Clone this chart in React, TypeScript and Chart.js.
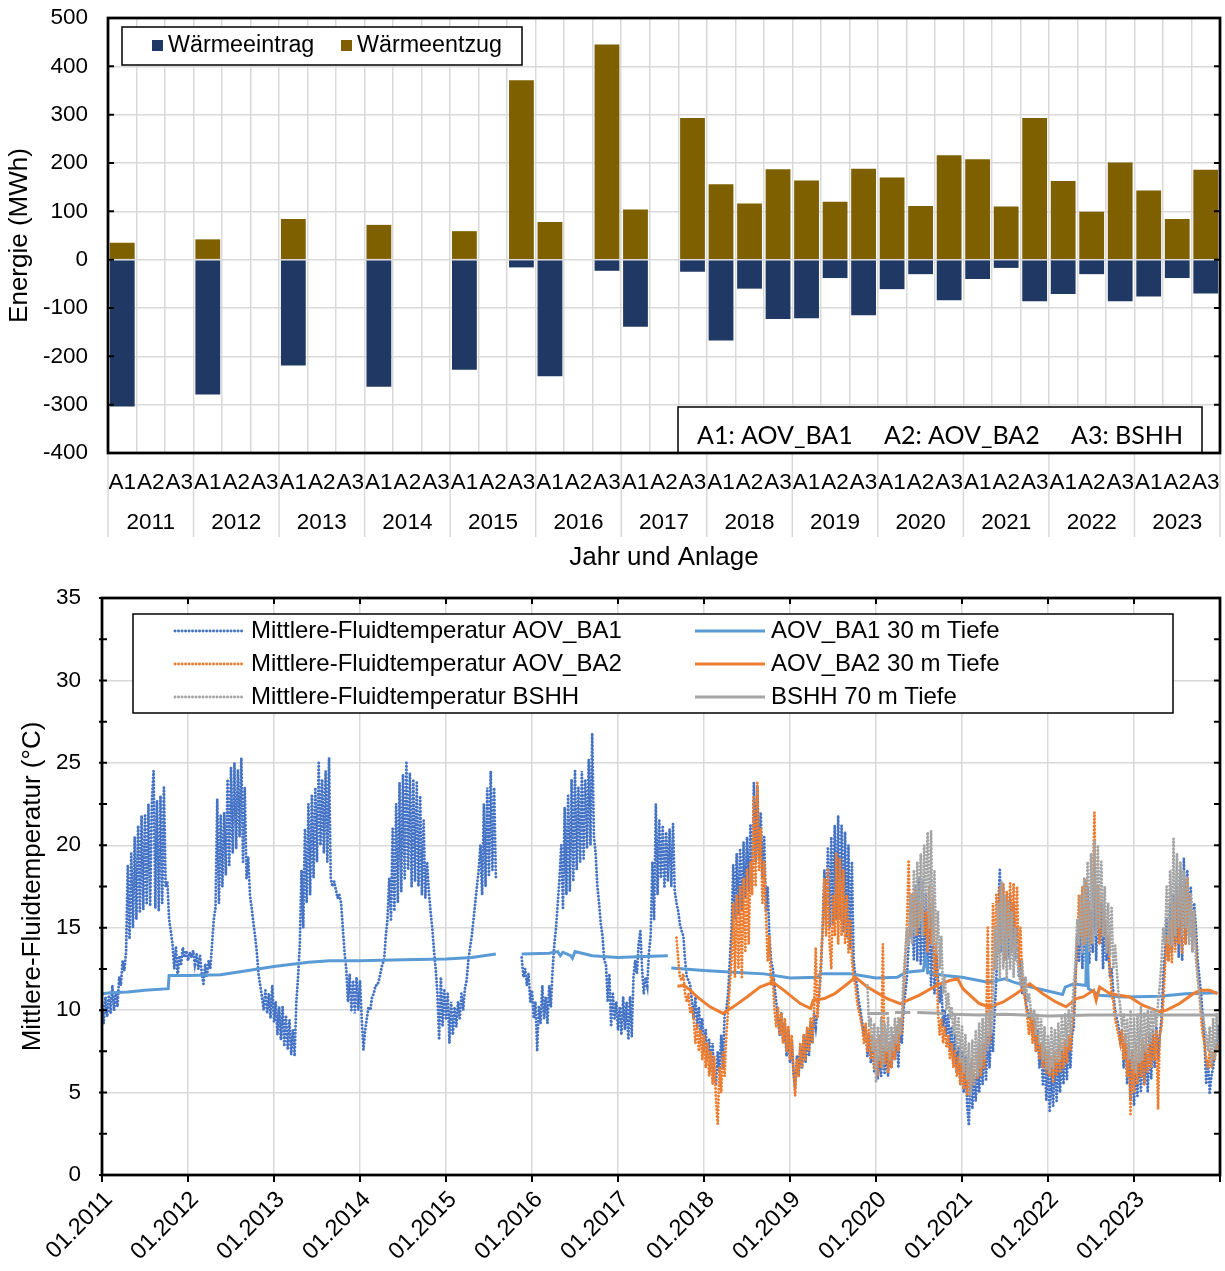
import React, { useEffect, useRef } from 'react';
import { Chart, registerables } from 'chart.js';

Chart.register(...registerables);

const FONT = "'Liberation Sans', Arial, sans-serif";
Chart.defaults.font.family = FONT;
Chart.defaults.font.size = 22;
Chart.defaults.color = '#000';

// ---------------- Top chart data ----------------
const years = ['2011', '2012', '2013', '2014', '2015', '2016', '2017', '2018', '2019', '2020', '2021', '2022', '2023'];
const plants = ['A1', 'A2', 'A3'];
const plantNames = ['A1: AOV_BA1', 'A2: AOV_BA2', 'A3: BSHH'];
// per year: A1, A2, A3  (MWh)
const waermeentzug = [
  35, null, null,
  42, null, null,
  84, null, null,
  72, null, null,
  59, null, 371,
  78, null, 445,
  104, null, 293,
  156, 116, 187,
  164, 120, 188,
  170, 111, 216,
  208, 110, 293,
  163, 99, 201,
  143, 84, 186,
];
const waermeeintrag = [
  -304, null, null,
  -279, null, null,
  -219, null, null,
  -263, null, null,
  -228, null, -16,
  -241, null, -23,
  -139, null, -25,
  -167, -60, -123,
  -121, -38, -115,
  -61, -30, -84,
  -40, -17, -86,
  -71, -30, -86,
  -76, -38, -70,
];
const topYMin = -400;
const topYMax = 500;
const topYStep = 100;

// ---------------- Bottom chart data ----------------
const xYearMin = 2011;
const xYearMax = 2024;
const bottomYMin = 0;
const bottomYMax = 35;
const bottomYStep = 5;

// fluid temperatures, one value every 0.02 year
const SAMPLE_STEP = 0.02;
const ba1FluidStart = 2011.0;
const ba1Fluid = [
  /*2011.0*/ 10.5, 9.2, 10.8, 9.6, 10.9, 9.8, 11.5, 10.0, 11.0, 10.2,
  /*2011.2*/ 12.0, 11.5, 13.0, 12.4, 13.5, 18.8, 14.3, 19.5, 15.0, 20.5,
  /*2011.4*/ 15.5, 21.2, 15.9, 21.8, 16.1, 21.8, 16.4, 22.5, 16.3, 22.6,
  /*2011.6*/ 24.5, 16.2, 22.7, 16.0, 23.0, 16.5, 23.5, 17.5, 17.8, 15.5,
  /*2011.8*/ 14.8, 14.0, 12.5, 13.8, 12.0, 13.3, 12.8, 13.8, 13.2, 13.6,
  /*2012.0*/ 13.0, 13.5, 13.2, 13.6, 12.8, 13.4, 12.5, 13.3, 12.2, 11.6,
  /*2012.2*/ 12.8, 12.0, 13.0, 12.5, 14.0, 15.5, 16.2, 22.8, 16.5, 21.8,
  /*2012.4*/ 17.5, 22.0, 18.2, 24.0, 18.8, 24.7, 19.5, 25.0, 19.8, 24.6,
  /*2012.6*/ 20.5, 25.3, 19.0, 23.5, 18.0, 19.3, 17.0, 16.2, 15.3, 14.5,
  /*2012.8*/ 13.5, 12.2, 11.5, 10.8, 10.0, 11.2, 9.8, 11.0, 9.5, 11.5,
  /*2013.0*/ 9.3, 10.5, 8.5, 10.2, 8.2, 10.2, 7.8, 9.6, 7.6, 9.4,
  /*2013.2*/ 7.3, 8.8, 7.2, 10.5, 12.0, 14.0, 18.5, 15.0, 21.0, 16.5,
  /*2013.4*/ 22.5, 17.0, 23.0, 18.0, 23.5, 19.0, 25.0, 20.0, 24.0, 19.5,
  /*2013.6*/ 24.5, 19.0, 25.3, 18.0, 17.5, 17.8, 17.3, 16.8, 17.0, 16.5,
  /*2013.8*/ 15.0, 13.5, 12.5, 10.5, 12.2, 10.0, 11.8, 9.8, 12.0, 10.0,
  /*2014.0*/ 11.8, 9.5, 7.6, 8.8, 9.5, 10.2, 10.0, 10.8, 11.0, 11.5,
  /*2014.2*/ 11.5, 11.8, 12.3, 12.8, 13.0, 14.5, 15.5, 18.0, 15.5, 21.0,
  /*2014.4*/ 16.0, 22.5, 16.5, 23.8, 17.2, 24.3, 18.0, 25.0, 18.5, 24.4,
  /*2014.6*/ 17.5, 24.0, 17.8, 23.8, 17.5, 23.0, 17.0, 21.5, 16.8, 19.0,
  /*2014.8*/ 17.2, 16.0, 15.0, 13.6, 12.5, 11.0, 8.2, 12.0, 9.0, 11.2,
  /*2015.0*/ 9.5, 11.0, 8.0, 10.5, 8.5, 10.2, 9.0, 10.5, 9.5, 11.0,
  /*2015.2*/ 10.0, 11.3, 11.8, 13.0, 13.8, 14.5, 15.5, 16.5, 17.5, 18.5,
  /*2015.4*/ 20.0, 17.0, 22.5, 17.5, 23.5, 18.2, 24.5, 18.5, 23.5, 18.0,
  /*2015.6*/ null, null, null, null, null, null, null, null, null, null,
  /*2015.8*/ null, null, null, null, 13.2, 12.0, 12.5, 11.5, 12.2, 10.5,
  /*2016.0*/ 11.2, 9.5, 10.5, 7.5, 10.2, 9.2, 11.5, 9.5, 10.8, 9.2,
  /*2016.2*/ 11.5, 10.2, 12.5, 14.0, 15.0, 16.5, 18.0, 20.0, 16.2, 22.3,
  /*2016.4*/ 17.0, 23.0, 17.2, 24.0, 17.8, 24.5, 18.5, 23.5, 19.0, 24.5,
  /*2016.6*/ 19.2, 24.0, 19.8, 25.2, 20.0, 26.8, 20.5, 19.5, 17.5, 16.5,
  /*2016.8*/ 15.2, 14.5, 13.0, 12.8, 10.5, 12.2, 9.0, 11.0, 9.5, 10.5,
  /*2017.0*/ 8.8, 10.2, 8.5, 10.8, 8.8, 10.5, 8.2, 10.8, 8.4, 12.0,
  /*2017.2*/ 13.0, 12.2, 14.0, 14.8, 12.5, 11.0, 12.0, 11.5, 13.5, 14.5,
  /*2017.4*/ 19.0, 15.5, 22.5, 17.0, 21.5, 18.0, 21.2, 17.5, 20.8, 17.8,
  /*2017.6*/ 21.0, 17.5, 21.3, 17.2, 16.5, 16.0, 15.2, 14.8, 14.5, 13.0,
  /*2017.8*/ 12.0, 11.8, 11.5, 10.5, 9.5, 10.8, 9.0, 10.2, 8.5, 9.5,
  /*2018.0*/ 7.5, 8.8, 7.0, 8.2, 6.2, 8.0, 5.8, 5.5, 7.5, 6.2,
  /*2018.2*/ 8.5, 6.5, 9.8, 10.0, 11.0, 13.0, 15.0, 18.8, 15.5, 19.5,
  /*2018.4*/ 15.8, 19.8, 16.0, 20.2, 16.8, 20.5, 17.2, 21.2, 17.5, 23.8,
  /*2018.6*/ 19.0, 23.6, 19.2, 22.0, 18.0, 20.5, 16.0, 17.5, 14.5, 13.0,
  /*2018.8*/ 12.5, 11.5, 10.5, 9.5, 8.5, 9.8, 8.0, 9.2, 7.2, 8.8,
  /*2019.0*/ 6.8, 8.2, 6.2, 5.2, 7.2, 6.0, 7.8, 6.5, 8.5, 6.8,
  /*2019.2*/ 8.8, 7.2, 9.2, 8.0, 9.8, 9.0, 10.0, 11.0, 12.5, 15.0,
  /*2019.4*/ 18.5, 15.2, 19.8, 15.0, 20.5, 15.2, 21.2, 15.5, 21.8, 15.5,
  /*2019.6*/ 21.2, 14.8, 20.8, 14.5, 20.0, 13.8, 19.0, 13.0, 12.0, 11.5,
  /*2019.8*/ 10.5, 10.0, 9.2, 8.5, 9.0, 7.2, 8.5, 6.8, 8.0, 6.2,
  /*2020.0*/ 7.5, 5.8, 7.2, 6.0, 7.8, 6.2, 7.5, 6.0, 8.0, 6.5,
  /*2020.2*/ 8.5, 7.0, 8.8, 6.5, 9.5, 8.0, 10.0, 11.0, 12.0, 14.0,
  /*2020.4*/ 15.0, 16.5, 13.0, 17.5, 13.0, 18.0, 12.8, 17.8, 12.5, 17.0,
  /*2020.6*/ 12.2, 16.5, 11.5, 15.5, 11.0, 13.5, 12.0, 10.5, 11.5, 9.0,
  /*2020.8*/ 10.0, 8.5, 9.8, 7.5, 9.0, 6.8, 8.5, 6.2, 7.8, 5.5,
  /*2021.0*/ 7.5, 5.0, 7.2, 4.2, 3.0, 6.8, 4.0, 6.0, 4.5, 6.5,
  /*2021.2*/ 5.0, 7.5, 5.5, 8.0, 5.8, 8.5, 6.5, 8.8, 7.5, 9.8,
  /*2021.4*/ 12.0, 16.0, 18.5, 13.5, 17.5, 13.0, 16.5, 13.2, 17.0, 14.0,
  /*2021.6*/ 16.5, 13.0, 15.0, 12.0, 13.0, 11.0, 12.0, 10.5, 10.0, 9.5,
  /*2021.8*/ 9.8, 8.5, 9.5, 7.5, 8.8, 6.5, 8.0, 5.5, 7.5, 4.5,
  /*2022.0*/ 7.0, 3.8, 6.5, 4.2, 7.0, 4.5, 6.8, 5.0, 7.5, 5.5,
  /*2022.2*/ 7.8, 5.8, 8.2, 6.5, 8.5, 9.0, 12.0, 14.5, 13.0, 16.0,
  /*2022.4*/ 12.5, 16.5, 13.0, 17.5, 12.8, 16.0, 13.5, 18.5, 13.0, 17.0,
  /*2022.6*/ 14.0, 16.5, 12.5, 15.5, 13.0, 14.0, 12.0, 12.5, 11.0, 10.0,
  /*2022.8*/ 9.5, 9.0, 8.0, 8.8, 6.5, 8.5, 5.5, 8.0, 4.5, 7.5,
  /*2023.0*/ 4.2, 7.0, 4.8, 7.5, 5.0, 7.8, 5.5, 8.0, 5.0, 8.5,
  /*2023.2*/ 5.8, 8.8, 6.5, 9.0, 7.0, 8.5, 9.5, 12.0, 13.5, 15.5,
  /*2023.4*/ 13.0, 16.5, 13.5, 17.0, 14.0, 17.5, 13.2, 18.5, 13.0, 19.2,
  /*2023.6*/ 14.0, 18.5, 14.5, 17.5, 13.5, 16.5, 15.0, 13.0, 12.0, 11.0,
  /*2023.8*/ 9.5, 8.0, 5.5, 7.0, 5.0, 6.0, 6.5, 7.5, 8.0, 9.0,
];

const ba2FluidStart = 2017.6;
const ba2Fluid = [
  /*2017.6*/ null, null, null, null, 14.4, 13.1, 12.0, 11.8, 12.2, 11.0,
  /*2017.8*/ 10.5, 11.0, 9.8, 10.2, 9.5, 8.0, 9.2, 7.5, 8.8, 7.0,
  /*2018.0*/ 8.5, 6.5, 8.0, 6.0, 7.5, 5.5, 7.2, 4.5, 3.1, 6.5,
  /*2018.2*/ 5.0, 7.5, 6.0, 8.5, 10.0, 11.5, 13.0, 16.5, 12.0, 17.0,
  /*2018.4*/ 12.5, 17.5, 12.0, 18.0, 13.5, 18.5, 14.0, 19.0, 17.0, 23.0,
  /*2018.6*/ 17.5, 23.8, 18.5, 21.0, 16.5, 19.0, 16.0, 13.0, 14.5, 11.5,
  /*2018.8*/ 12.0, 10.0, 9.0, 10.2, 8.5, 9.8, 8.0, 9.5, 7.5, 9.0,
  /*2019.0*/ 7.0, 8.5, 6.5, 4.8, 7.0, 6.0, 8.0, 6.5, 8.5, 7.0,
  /*2019.2*/ 9.0, 7.5, 9.5, 8.0, 10.0, 13.8, 9.5, 11.0, 13.0, 15.0,
  /*2019.4*/ 18.0, 14.5, 18.5, 14.0, 12.5, 17.0, 14.5, 19.5, 14.0, 19.2,
  /*2019.6*/ 14.5, 18.5, 14.0, 17.0, 13.5, 15.5, 13.0, 12.0, 11.5, 10.5,
  /*2019.8*/ 10.0, 9.5, 9.0, 8.0, 9.2, 7.5, 8.8, 7.0, 8.5, 6.5,
  /*2020.0*/ 8.2, 6.0, 8.5, 6.5, 14.0, 6.8, 8.5, 6.2, 8.0, 6.5,
  /*2020.2*/ 8.5, 7.0, 9.0, 7.5, 9.5, 8.5, 11.0, 13.0, 15.0, 19.0,
  /*2020.4*/ 14.5, 17.0, 15.0, 17.3, 14.5, 16.5, 15.5, 17.0, 14.5, 16.0,
  /*2020.6*/ 13.5, 17.5, 14.0, 16.8, 12.0, 14.0, 10.0, 8.5, 9.5, 8.0,
  /*2020.8*/ 9.0, 7.8, 8.5, 7.0, 8.0, 6.5, 7.5, 6.0, 7.2, 5.5,
  /*2021.0*/ 7.0, 5.2, 6.8, 4.8, 6.5, 5.0, 7.0, 5.5, 7.5, 5.8,
  /*2021.2*/ 7.8, 6.0, 8.0, 6.5, 8.5, 15.0, 8.0, 9.0, 16.5, 12.5,
  /*2021.4*/ 17.0, 13.5, 17.5, 14.0, 17.7, 13.0, 17.2, 14.5, 17.7, 13.5,
  /*2021.6*/ 17.7, 14.0, 17.5, 12.5, 15.0, 12.0, 11.0, 10.5, 9.5, 8.5,
  /*2021.8*/ 10.0, 8.0, 9.5, 7.5, 8.5, 7.0, 8.0, 6.5, 7.8, 6.2,
  /*2022.0*/ 7.5, 6.0, 7.2, 5.6, 7.5, 6.0, 7.8, 6.2, 8.0, 6.5,
  /*2022.2*/ 8.2, 6.8, 8.5, 7.5, 9.0, 10.0, 12.0, 14.0, 17.0, 14.5,
  /*2022.4*/ 17.5, 14.0, 17.9, 14.5, 16.5, 14.0, 17.0, 22.0, 15.0, 17.5,
  /*2022.6*/ 14.0, 17.0, 14.5, 16.0, 13.9, 14.5, 12.5, 11.0, 10.5, 9.5,
  /*2022.8*/ 9.0, 8.5, 8.0, 8.8, 7.0, 8.5, 6.0, 7.8, 3.7, 7.5,
  /*2023.0*/ 5.0, 8.0, 5.5, 7.8, 6.0, 8.2, 5.5, 8.5, 6.2, 8.0,
  /*2023.2*/ 6.5, 8.5, 7.0, 8.8, 4.0, 8.5, 9.0, 10.5, 12.5, 14.5,
  /*2023.4*/ 13.0, 15.5, 12.9, 16.5, 13.5, 17.0, 14.0, 17.5, 13.5, 18.3,
  /*2023.6*/ 14.0, 18.0, 14.5, 17.0, 13.5, 16.0, 14.0, 12.0, 11.0, 9.5,
  /*2023.8*/ 8.5, 8.0, 7.0, 6.5, 7.5, 6.5, 7.5, 7.0, 8.0, 7.5,
];

const bshhFluidStart = 2019.8;
const bshhFluid = [
  /*2019.8*/ null, null, null, null, null, 11.5, 9.0, 9.5, 7.5, 9.2,
  /*2020.0*/ 5.6, 9.0, 7.0, 9.5, 6.5, 9.2, 7.5, 9.6, 7.0, 9.0,
  /*2020.2*/ 7.5, 9.5, 8.0, 9.6, 8.5, 9.5, 12.0, 13.5, 15.0, 14.0,
  /*2020.4*/ 17.0, 14.0, 18.5, 14.5, 19.0, 15.0, 19.5, 14.5, 20.0, 16.0,
  /*2020.6*/ 20.8, 15.0, 20.9, 14.0, 18.5, 13.5, 16.0, 12.5, 14.5, 11.0,
  /*2020.8*/ 12.0, 10.0, 11.0, 9.5, 10.2, 8.5, 9.8, 7.5, 9.5, 6.8,
  /*2021.0*/ 9.0, 6.2, 8.5, 5.8, 8.0, 4.8, 8.2, 5.5, 8.8, 6.0,
  /*2021.2*/ 9.2, 6.5, 9.5, 7.0, 9.8, 7.5, 10.0, 8.5, 10.2, 15.0,
  /*2021.4*/ 12.5, 16.5, 12.0, 17.8, 12.5, 17.0, 11.8, 16.5, 12.5, 16.0,
  /*2021.6*/ 12.0, 15.0, 13.0, 12.5, 11.5, 13.0, 11.0, 12.0, 10.5, 11.0,
  /*2021.8*/ 10.0, 9.5, 10.0, 8.5, 9.8, 8.0, 9.5, 7.0, 9.0, 6.5,
  /*2022.0*/ 8.5, 6.2, 9.0, 6.5, 8.8, 6.8, 9.2, 7.0, 9.5, 7.5,
  /*2022.2*/ 9.8, 7.8, 10.0, 8.5, 10.2, 11.5, 13.0, 15.5, 14.0, 17.0,
  /*2022.4*/ 13.5, 18.0, 14.0, 19.0, 13.5, 19.5, 14.0, 20.3, 14.5, 20.0,
  /*2022.6*/ 15.0, 19.0, 14.5, 17.5, 13.5, 16.5, 13.3, 16.2, 12.5, 14.0,
  /*2022.8*/ 12.4, 11.0, 10.2, 9.0, 9.8, 8.0, 9.5, 7.0, 10.0, 6.5,
  /*2023.0*/ 9.5, 6.2, 9.8, 6.8, 10.2, 7.0, 9.8, 7.5, 10.0, 8.0,
  /*2023.2*/ 10.2, 8.5, 10.0, 9.0, 10.5, 11.5, 13.0, 15.0, 14.0, 17.5,
  /*2023.4*/ 14.0, 18.5, 13.9, 20.4, 14.5, 19.5, 15.0, 19.0, 14.5, 18.5,
  /*2023.6*/ 15.0, 18.0, 14.0, 17.0, 13.5, 16.0, 13.0, 12.0, 11.0, 10.0,
  /*2023.8*/ 9.8, 9.0, 8.5, 7.5, 9.0, 6.8, 9.5, 7.0, 9.8, 7.5,
];

// ground temperatures at depth: [decimal year, °C]
const ba1Depth30: [number, number | null][] = [
  [2011.0, 11.0], [2011.1, 11.05], [2011.3, 11.1], [2011.5, 11.2], [2011.77, 11.3], [2011.78, 12.1],
  [2012.0, 12.1], [2012.38, 12.15], [2012.7, 12.4], [2013.0, 12.65], [2013.4, 12.9], [2013.65, 13.0],
  [2014.0, 13.0], [2014.5, 13.05], [2015.0, 13.1], [2015.3, 13.2], [2015.58, 13.4], [2015.7, null],
  [2015.88, 13.4], [2016.2, 13.45], [2016.3, 13.55], [2016.33, 13.3], [2016.36, 13.5], [2016.45, 13.3],
  [2016.47, 13.15], [2016.5, 13.55], [2016.7, 13.3], [2017.0, 13.2], [2017.3, 13.25], [2017.58, 13.3],
  [2017.6, null], [2017.62, 12.55], [2018.0, 12.4], [2018.34, 12.3], [2018.7, 12.2], [2019.0, 11.95],
  [2019.33, 12.0], [2019.35, 12.2], [2019.7, 12.2], [2020.0, 11.95], [2020.25, 12.0], [2020.35, 12.3],
  [2020.55, 12.4], [2020.58, 13.3], [2020.6, 12.3], [2020.8, 12.1], [2021.0, 12.0], [2021.3, 11.7],
  [2021.5, 11.9], [2021.6, 11.7], [2021.8, 11.4], [2022.17, 10.95], [2022.2, 11.4], [2022.3, 11.6],
  [2022.44, 11.5], [2022.45, 15.0], [2022.47, 11.3], [2022.6, 10.9], [2022.9, 10.8], [2023.3, 10.85],
  [2023.6, 11.0], [2023.97, 11.05],
];
const ba2Depth30: [number, number | null][] = [
  [2017.69, 11.45], [2017.77, 11.5], [2017.84, 11.2], [2017.92, 10.8], [2018.07, 10.2], [2018.22, 9.8],
  [2018.34, 10.2], [2018.5, 10.8], [2018.65, 11.4], [2018.8, 11.7], [2018.93, 11.2], [2019.12, 10.4],
  [2019.24, 10.1], [2019.27, 10.6], [2019.4, 10.7], [2019.52, 11.0], [2019.67, 11.6], [2019.76, 12.0],
  [2019.9, 11.4], [2020.13, 10.7], [2020.28, 10.4], [2020.5, 10.9], [2020.74, 11.6], [2020.86, 11.8],
  [2020.95, 11.9], [2021.01, 11.3], [2021.2, 10.4], [2021.32, 10.2], [2021.48, 10.5], [2021.63, 11.0],
  [2021.79, 11.6], [2021.94, 11.0], [2022.09, 10.5], [2022.21, 10.2], [2022.33, 10.7], [2022.41, 10.8],
  [2022.53, 11.2], [2022.56, 10.6], [2022.6, 11.4], [2022.72, 11.0], [2022.95, 10.8], [2023.1, 10.3],
  [2023.3, 9.9], [2023.38, 10.0], [2023.53, 10.4], [2023.69, 11.0], [2023.77, 11.2], [2023.88, 11.2],
  [2023.97, 11.0],
];
const bshhDepth70: [number, number | null][] = [
  [2019.9, 9.8], [2020.15, 9.8], [2020.18, null], [2020.22, 9.85], [2020.4, 9.85], [2020.44, null],
  [2020.48, 9.85], [2020.8, 9.8], [2020.84, null], [2020.88, 9.75], [2021.2, 9.7], [2021.5, 9.75],
  [2022.0, 9.65], [2022.5, 9.7], [2023.0, 9.7], [2023.5, 9.7], [2023.97, 9.7],
];

const seriesNames = {
  ba1Fluid: 'Mittlere-Fluidtemperatur AOV_BA1',
  ba2Fluid: 'Mittlere-Fluidtemperatur AOV_BA2',
  bshhFluid: 'Mittlere-Fluidtemperatur BSHH',
  ba1Depth: 'AOV_BA1 30 m Tiefe',
  ba2Depth: 'AOV_BA2 30 m Tiefe',
  bshhDepth: 'BSHH 70 m Tiefe',
};

const COLORS = {
  eintrag: '#203864',
  entzug: '#7F6000',
  blueDot: '#4472C4',
  orange: '#ED7D31',
  grey: '#A5A5A5',
  lightBlue: '#5B9BD5',
  grid: '#D9D9D9',
};

const DOT_DASH = [0.1, 3.4];
const TICK_FONT = 22.5;
const TITLE_FONT = 26;

function sampled(start: number, vals: (number | null)[]) {
  return vals.map((v, i) => ({ x: Math.round((start + i * SAMPLE_STEP) * 100) / 100, y: v }));
}
function pairs(list: [number, number | null][]) {
  return list.map(([x, y]) => ({ x, y }));
}
function noPad(s: any) {
  s.paddingLeft = 0;
  s.paddingRight = 0;
  s.paddingTop = 0;
  s.paddingBottom = 0;
}

// ---------------- plugins ----------------
const topDecor = {
  id: 'topDecor',
  afterDraw(chart: any) {
    const { ctx, chartArea: a, scales } = chart;
    const xs = scales.x;
    const ys = scales.y;
    const w = xs.getPixelForValue(1) - xs.getPixelForValue(0);
    ctx.save();
    // year separators below the plot
    ctx.strokeStyle = COLORS.grid;
    ctx.lineWidth = 1.5;
    for (let i = 0; i <= years.length; i++) {
      const x = i < years.length ? xs.getPixelForValue(i * plants.length) - w / 2 : a.right;
      ctx.beginPath();
      ctx.moveTo(x, a.bottom);
      ctx.lineTo(x, a.bottom + 84);
      ctx.stroke();
    }
    // legend
    const ds = chart.data.datasets;
    ctx.fillStyle = '#fff';
    ctx.fillRect(122, 27, 400, 38);
    ctx.strokeStyle = '#000';
    ctx.lineWidth = 1.5;
    ctx.strokeRect(122, 27, 400, 38);
    ctx.font = `23.3px ${FONT}`;
    ctx.textBaseline = 'middle';
    ctx.textAlign = 'left';
    const legendX = [152, 341];
    ds.forEach((d: any, i: number) => {
      ctx.fillStyle = d.backgroundColor;
      ctx.fillRect(legendX[i], 40, 11, 11);
      ctx.fillStyle = '#000';
      ctx.fillText(d.label, legendX[i] + 16, 46);
    });
    // plant key box
    ctx.fillStyle = '#fff';
    ctx.fillRect(678, 407, 524, a.bottom - 407);
    ctx.strokeStyle = '#000';
    ctx.lineWidth = 1.5;
    ctx.strokeRect(678, 407, 524, a.bottom - 407);
    ctx.fillStyle = '#000';
    ctx.font = `25px Lato, 'Open Sans', sans-serif`;
    ctx.textBaseline = 'alphabetic';
    const keyX = [697, 884, 1071];
    plantNames.forEach((t, i) => ctx.fillText(t, keyX[i], 444));
    // ticks
    ctx.strokeStyle = '#000';
    ctx.lineWidth = 2;
    for (let v = topYMin; v <= topYMax; v += topYStep) {
      const y = ys.getPixelForValue(v);
      ctx.beginPath();
      ctx.moveTo(a.left, y);
      ctx.lineTo(a.left + 6, y);
      ctx.moveTo(a.right, y);
      ctx.lineTo(a.right - 6, y);
      ctx.stroke();
    }
    // frame
    ctx.lineWidth = 2.75;
    ctx.strokeRect(a.left, a.top, a.right - a.left, a.bottom - a.top);
    ctx.restore();
  },
};

const bottomDecor = {
  id: 'bottomDecor',
  afterDraw(chart: any) {
    const { ctx, chartArea: a, scales } = chart;
    const xs = scales.x;
    const ys = scales.y;
    ctx.save();
    // legend box
    ctx.fillStyle = '#fff';
    ctx.fillRect(133, 39, 1040, 99);
    ctx.strokeStyle = '#000';
    ctx.lineWidth = 1.5;
    ctx.strokeRect(133, 39, 1040, 99);
    const ds = chart.data.datasets;
    const colX = [175, 695];
    const rowY = [56, 89, 122];
    ctx.font = `24px ${FONT}`;
    ctx.textBaseline = 'middle';
    ctx.textAlign = 'left';
    ds.forEach((d: any) => {
      const x0 = colX[d.legendCol];
      const y = rowY[d.legendRow];
      ctx.strokeStyle = d.borderColor;
      ctx.lineWidth = d.borderWidth;
      ctx.lineCap = d.borderDash && d.borderDash.length ? 'round' : 'butt';
      ctx.setLineDash(d.borderDash || []);
      ctx.beginPath();
      ctx.moveTo(x0, y);
      ctx.lineTo(x0 + 70, y);
      ctx.stroke();
      ctx.setLineDash([]);
      ctx.fillStyle = '#000';
      ctx.fillText(d.label, x0 + 76, y);
    });
    ctx.lineCap = 'butt';
    // ticks
    ctx.strokeStyle = '#000';
    ctx.lineWidth = 2;
    for (let v = bottomYMin; v <= bottomYMax; v += bottomYStep / 2) {
      const y = ys.getPixelForValue(v);
      ctx.beginPath();
      ctx.moveTo(a.left - 3, y);
      ctx.lineTo(a.left + 5, y);
      ctx.moveTo(a.right, y);
      ctx.lineTo(a.right - 6, y);
      ctx.stroke();
    }
    for (let yr = xYearMin; yr <= xYearMax; yr++) {
      const x = xs.getPixelForValue(yr);
      ctx.beginPath();
      ctx.moveTo(x, a.top);
      ctx.lineTo(x, a.top + 6);
      ctx.moveTo(x, a.bottom);
      ctx.lineTo(x, a.bottom + 7);
      ctx.stroke();
    }
    ctx.lineWidth = 2.75;
    ctx.strokeRect(a.left, a.top, a.right - a.left, a.bottom - a.top);
    ctx.restore();
  },
};

function TopChart() {
  const ref = useRef<HTMLCanvasElement>(null);
  useEffect(() => {
    if (!ref.current) return;
    const categories = years.flatMap(() => plants);
    const chart = new Chart(ref.current, {
      type: 'bar',
      data: {
        labels: categories,
        datasets: [
          {
            label: 'Wärmeeintrag',
            data: waermeeintrag,
            backgroundColor: COLORS.eintrag,
            borderWidth: 0,
            barPercentage: 0.87,
            categoryPercentage: 1,
          },
          {
            label: 'Wärmeentzug',
            data: waermeentzug,
            backgroundColor: COLORS.entzug,
            borderWidth: 0,
            barPercentage: 0.87,
            categoryPercentage: 1,
          },
        ],
      },
      options: {
        responsive: false,
        animation: false,
        devicePixelRatio: 1,
        layout: { padding: { top: 18, right: 5, left: 0, bottom: 0 } },
        plugins: { legend: { display: false }, tooltip: { enabled: false } },
        scales: {
          x: {
            stacked: true,
            weight: 0,
            grid: { color: COLORS.grid, lineWidth: 1.5, drawTicks: false },
            border: { display: false },
            ticks: { autoSkip: false, maxRotation: 0, minRotation: 0, padding: 16, font: { size: TICK_FONT } },
            afterFit: (s: any) => { s.height = 48; noPad(s); },
          },
          x2: {
            type: 'category',
            labels: years,
            position: 'bottom',
            weight: 1,
            offset: true,
            grid: { display: false, drawTicks: false },
            border: { display: false },
            ticks: { autoSkip: false, maxRotation: 0, minRotation: 0, padding: 8, font: { size: TICK_FONT } },
            title: { display: true, text: 'Jahr und Anlage', font: { size: TITLE_FONT }, padding: { top: 0, bottom: 2 } },
            afterFit: (s: any) => { s.height = 74; noPad(s); },
          },
          y: {
            stacked: true,
            min: topYMin,
            max: topYMax,
            ticks: { stepSize: topYStep, padding: 20, font: { size: TICK_FONT } },
            grid: { color: COLORS.grid, lineWidth: 1.5, drawTicks: false },
            border: { display: false },
            title: { display: true, text: 'Energie (MWh)', font: { size: TITLE_FONT }, padding: { top: 4, bottom: 0 } },
            afterFit: (s: any) => { s.width = 108; noPad(s); },
          },
        },
      } as any,
      plugins: [topDecor],
    });
    return () => chart.destroy();
  }, []);
  return <canvas ref={ref} width={1225} height={575} style={{ display: 'block', width: 1225, height: 575 }} />;
}

function BottomChart() {
  const ref = useRef<HTMLCanvasElement>(null);
  useEffect(() => {
    if (!ref.current) return;
    const dotted = { borderWidth: 2.9, borderDash: DOT_DASH, borderCapStyle: 'round', pointRadius: 0, spanGaps: false };
    const solid = { borderWidth: 3, pointRadius: 0, spanGaps: false };
    const chart = new Chart(ref.current, {
      type: 'line',
      data: {
        datasets: [
          { label: seriesNames.ba1Fluid, data: sampled(ba1FluidStart, ba1Fluid), borderColor: COLORS.blueDot, ...dotted, order: 5, legendCol: 0, legendRow: 0 },
          { label: seriesNames.ba1Depth, data: pairs(ba1Depth30), borderColor: COLORS.lightBlue, ...solid, order: 4, legendCol: 1, legendRow: 0 },
          { label: seriesNames.ba2Fluid, data: sampled(ba2FluidStart, ba2Fluid), borderColor: COLORS.orange, ...dotted, order: 3, legendCol: 0, legendRow: 1 },
          { label: seriesNames.ba2Depth, data: pairs(ba2Depth30), borderColor: COLORS.orange, ...solid, order: 2, legendCol: 1, legendRow: 1 },
          { label: seriesNames.bshhFluid, data: sampled(bshhFluidStart, bshhFluid), borderColor: COLORS.grey, ...dotted, order: 1, legendCol: 0, legendRow: 2 },
          { label: seriesNames.bshhDepth, data: pairs(bshhDepth70), borderColor: COLORS.grey, ...solid, order: 0, legendCol: 1, legendRow: 2 },
        ] as any,
      },
      options: {
        responsive: false,
        animation: false,
        devicePixelRatio: 1,
        layout: { padding: { top: 23, right: 5, left: 0, bottom: 0 } },
        plugins: { legend: { display: false }, tooltip: { enabled: false } },
        elements: { line: { tension: 0 }, point: { radius: 0 } },
        scales: {
          x: {
            type: 'linear',
            min: xYearMin,
            max: xYearMax,
            grid: { color: COLORS.grid, lineWidth: 1.5, drawTicks: false },
            border: { display: false },
            ticks: {
              stepSize: 1,
              autoSkip: false,
              maxRotation: 45,
              minRotation: 45,
              padding: 11,
              labelOffset: 7,
              font: { size: 23.5 },
              callback: (v: any) => (Number(v) < xYearMax ? '01.' + v : ''),
            },
            afterFit: (s: any) => { s.height = 96; noPad(s); },
          },
          y: {
            min: bottomYMin,
            max: bottomYMax,
            ticks: { stepSize: bottomYStep, padding: 21, font: { size: TICK_FONT } },
            grid: { color: COLORS.grid, lineWidth: 1.5, drawTicks: false },
            border: { display: false },
            title: { display: true, text: 'Mittlere-Fluidtemperatur (°C)', font: { size: TITLE_FONT }, padding: { top: 17, bottom: 0 } },
            afterFit: (s: any) => { s.width = 102; noPad(s); },
          },
        },
      } as any,
      plugins: [bottomDecor],
    });
    return () => chart.destroy();
  }, []);
  return <canvas ref={ref} width={1225} height={696} style={{ display: 'block', width: 1225, height: 696 }} />;
}

export default function App() {
  return (
    <div style={{ position: 'absolute', left: 0, top: 0, width: 1225, height: 1271, background: '#fff' }}>
      <TopChart />
      <BottomChart />
    </div>
  );
}
